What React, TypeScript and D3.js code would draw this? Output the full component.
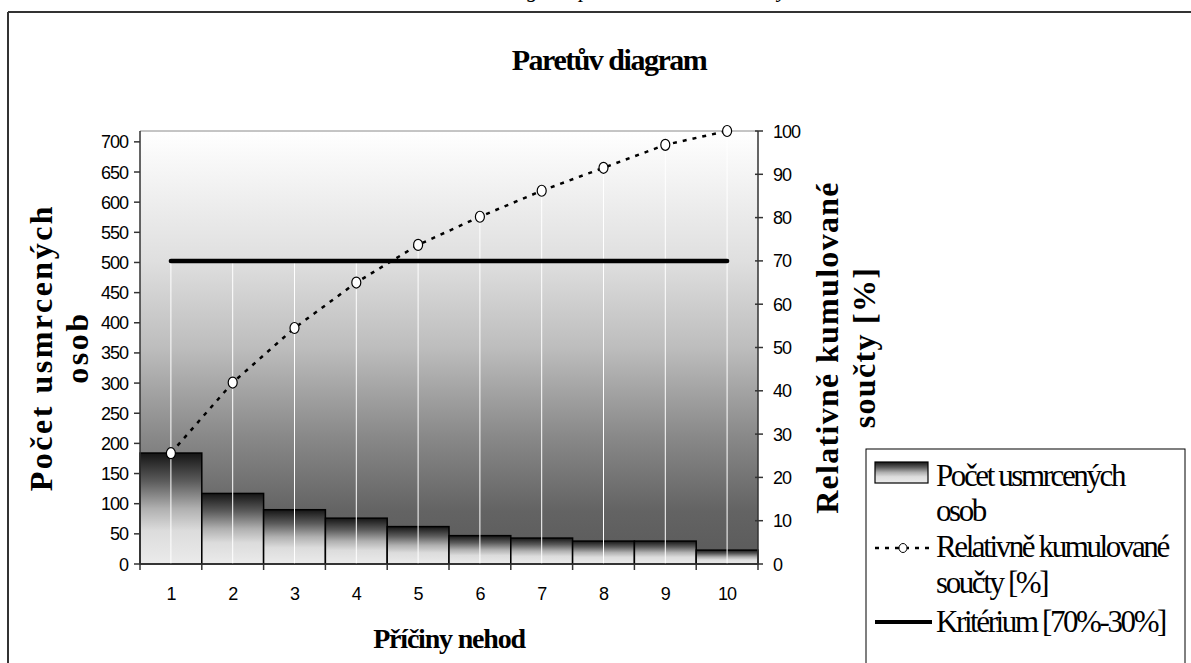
import React from 'react';
import * as d3 from 'd3';

// categories (causes) and values
const categories = ['1', '2', '3', '4', '5', '6', '7', '8', '9', '10'];
const deaths = [184, 117, 90, 76, 62, 47, 43, 38, 38, 23];
const cumulativePct = [25.6, 41.9, 54.5, 65.0, 73.7, 80.2, 86.2, 91.5, 96.8, 100];
const criterionPct = 70;
const leftMax = 718;
const leftTicks = d3.range(0, 701, 50);
const rightTicks = d3.range(0, 101, 10);

const SERIF = '"Liberation Serif", "Times New Roman", serif';
const SANS = '"Liberation Sans", Arial, sans-serif';

export default function App() {
  const width = 1191;
  const height = 663;
  const plot = { left: 140, right: 758, top: 131, bottom: 564 };

  const x = d3.scaleBand<string>().domain(categories).range([plot.left, plot.right]).padding(0);
  const yLeft = d3.scaleLinear().domain([0, leftMax]).range([plot.bottom, plot.top]);
  const yRight = d3.scaleLinear().domain([0, 100]).range([plot.bottom, plot.top]);
  const cx = (c: string) => (x(c) as number) + x.bandwidth() / 2;

  const cumLine = d3.line<number>()
    .x((_, i) => cx(categories[i]))
    .y(d => yRight(d))(cumulativePct);

  const critY = yRight(criterionPct);
  const midY = (plot.top + plot.bottom) / 2;

  return (
    <div style={{ position: 'absolute', left: 0, top: 0 }}>
      <svg width={width} height={height} style={{ display: 'block', background: '#fff' }}>
        <defs>
          <linearGradient id="plotBg" x1="0" y1="0" x2="0" y2="1">
            <stop offset="0" stopColor="#ffffff" />
            <stop offset="0.3" stopColor="#dfdfdf" />
            <stop offset="0.5" stopColor="#bdbdbd" />
            <stop offset="0.7" stopColor="#8a8a8a" />
            <stop offset="0.88" stopColor="#636363" />
            <stop offset="1" stopColor="#5a5a5a" />
          </linearGradient>
          <linearGradient id="barFill" x1="0" y1="0" x2="0" y2="1">
            <stop offset="0" stopColor="#151515" />
            <stop offset="0.25" stopColor="#5a5a5a" />
            <stop offset="0.5" stopColor="#b0b0b0" />
            <stop offset="0.7" stopColor="#dcdcdc" />
            <stop offset="1" stopColor="#ebebeb" />
          </linearGradient>
        </defs>

        {/* caption of the page, cut off at the top (only descenders show) */}
        <text x={615} y={-3} textAnchor="middle" fontFamily={SERIF} fontStyle="italic" fontSize={22}>
          Obr. 3: Paretův diagram příčin nehod s následky usmrcení
        </text>

        {/* chart frame */}
        <line x1={8} x2={width} y1={12} y2={12} stroke="#333" strokeWidth={2} />
        <line x1={8} x2={8} y1={12} y2={height} stroke="#333" strokeWidth={2} />

        {/* title */}
        <text x={609} y={70} textAnchor="middle" fontFamily={SERIF} fontWeight="bold" fontSize={30} letterSpacing={-1.5}>
          Paretův diagram
        </text>

        {/* plot area */}
        <rect x={plot.left} y={plot.top} width={plot.right - plot.left} height={plot.bottom - plot.top} fill="url(#plotBg)" />
        <line x1={plot.left} x2={plot.right} y1={plot.top} y2={plot.top} stroke="#8a8a8a" />

        {/* bars */}
        {deaths.map((d, i) => (
          <rect
            key={i}
            x={x(categories[i])}
            y={yLeft(d)}
            width={x.bandwidth()}
            height={plot.bottom - yLeft(d)}
            fill="url(#barFill)"
            stroke="#000"
            strokeWidth={1.5}
          />
        ))}

        {/* drop lines */}
        {cumulativePct.map((p, i) => (
          <line
            key={i}
            x1={cx(categories[i])}
            x2={cx(categories[i])}
            y1={Math.min(yRight(p), critY)}
            y2={plot.bottom}
            stroke="#fff"
            strokeWidth={1}
          />
        ))}

        {/* criterion line */}
        <line
          x1={cx(categories[0])}
          x2={cx(categories[categories.length - 1])}
          y1={critY}
          y2={critY}
          stroke="#000"
          strokeWidth={4.5}
          strokeLinecap="round"
        />

        {/* cumulative line */}
        <path d={cumLine || ''} fill="none" stroke="#000" strokeWidth={2.5} strokeDasharray="4 6" />
        {cumulativePct.map((p, i) => (
          <ellipse key={i} cx={cx(categories[i])} cy={yRight(p)} rx={4.5} ry={5.5} fill="#fff" stroke="#000" strokeWidth={1.2} />
        ))}

        {/* left axis */}
        <line x1={plot.left} x2={plot.left} y1={plot.top} y2={plot.bottom} stroke="#333" strokeWidth={1.5} />
        {leftTicks.map(t => (
          <g key={t}>
            <line x1={plot.left - 6} x2={plot.left} y1={yLeft(t)} y2={yLeft(t)} stroke="#333" strokeWidth={1.5} />
            <text x={plot.left - 12} y={yLeft(t) + 6.5} textAnchor="end" fontFamily={SANS} fontSize={18} letterSpacing={-1}>
              {t}
            </text>
          </g>
        ))}

        {/* right axis */}
        <line x1={plot.right} x2={plot.right} y1={plot.top} y2={plot.bottom} stroke="#333" strokeWidth={1.5} />
        {rightTicks.map(t => (
          <g key={t}>
            <line x1={plot.right - 3} x2={plot.right + 5} y1={yRight(t)} y2={yRight(t)} stroke="#333" strokeWidth={1.5} />
            <text x={plot.right + 15} y={yRight(t) + 6.5} textAnchor="start" fontFamily={SANS} fontSize={18} letterSpacing={-1}>
              {t}
            </text>
          </g>
        ))}

        {/* bottom axis */}
        <line x1={plot.left} x2={plot.right} y1={plot.bottom} y2={plot.bottom} stroke="#333" strokeWidth={1.5} />
        {[...categories.map(c => x(c) as number), plot.right].map((bx, i) => (
          <line key={i} x1={bx} x2={bx} y1={plot.bottom} y2={plot.bottom + 6} stroke="#333" strokeWidth={1.5} />
        ))}
        {categories.map(c => (
          <text key={c} x={cx(c)} y={600} textAnchor="middle" fontFamily={SANS} fontSize={18} letterSpacing={-1}>
            {c}
          </text>
        ))}

        {/* axis titles */}
        <text x={449} y={648} textAnchor="middle" fontFamily={SERIF} fontWeight="bold" fontSize={28} letterSpacing={-1.2}>
          Příčiny nehod
        </text>
        <g transform={`translate(52,${midY}) rotate(-90)`} fontFamily={SERIF} fontWeight="bold" fontSize={32} letterSpacing={2.5}>
          <text x={0} y={0} textAnchor="middle">Počet usmrcených</text>
          <text x={0} y={36} textAnchor="middle">osob</text>
        </g>
        <g transform={`translate(838,${midY}) rotate(-90)`} fontFamily={SERIF} fontWeight="bold" fontSize={32} letterSpacing={1.3}>
          <text x={0} y={0} textAnchor="middle">Relativně kumulované</text>
          <text x={0} y={37} textAnchor="middle">součty [%]</text>
        </g>

        {/* legend */}
        <rect x={866} y={449} width={319} height={230} fill="#fff" stroke="#000" strokeWidth={1} />
        <rect x={875} y={462} width={53} height={21} fill="url(#barFill)" stroke="#000" strokeWidth={1.2} />
        <line x1={875} x2={932} y1={548} y2={548} stroke="#000" strokeWidth={2.5} strokeDasharray="4 6" />
        <ellipse cx={903} cy={548} rx={4} ry={4.5} fill="#fff" stroke="#000" strokeWidth={1} />
        <line x1={875} x2={932} y1={622} y2={622} stroke="#000" strokeWidth={4} />
        <g fontFamily={SERIF} fontSize={31} letterSpacing={-2.4}>
          <text x={936} y={486}>Počet usmrcených</text>
          <text x={936} y={521}>osob</text>
          <text x={936} y={557}>Relativně kumulované</text>
          <text x={936} y={593}>součty [%]</text>
          <text x={936} y={632}>Kritérium [70%-30%]</text>
        </g>
      </svg>
    </div>
  );
}
